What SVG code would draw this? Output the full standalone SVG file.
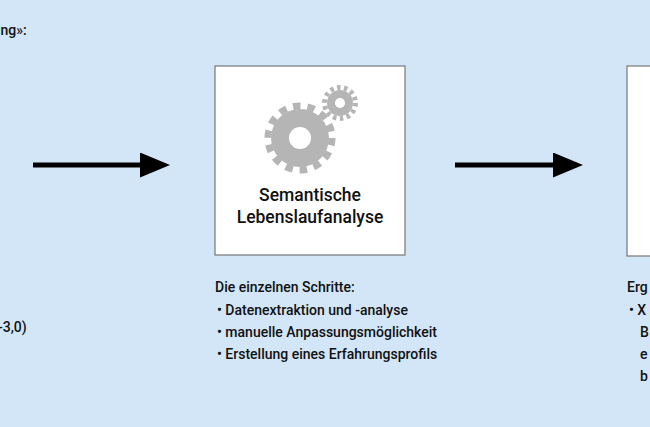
<svg xmlns="http://www.w3.org/2000/svg" width="650" height="427" viewBox="0 0 650 427">
<style>
text{font-family:Roboto,"Liberation Sans",Arial,sans-serif;fill:#111;font-weight:500}
.t{font-size:14px}
.h{font-size:17.5px;text-anchor:middle}
.box{fill:#fff;stroke:#777;stroke-width:1.2}
.g{fill:#b5b5b5}
.ln{stroke:#000;stroke-width:5}
</style>
<defs><marker id="ah" markerWidth="6" markerHeight="5" refX="0" refY="2.5" orient="auto" markerUnits="strokeWidth"><path d="M0,0L6,2.5L0,5z" fill="#000"/></marker></defs>
<rect width="650" height="427" fill="#d2e6f7"/>
<text class="t" x="-3" y="35" font-weight="bold">ing»:</text>
<text class="t" x="-2" y="332">-3,0)</text>
<g id="connectors">
<line class="ln" x1="33" y1="165" x2="140" y2="165" marker-end="url(#ah)"/>
<line class="ln" x1="455" y1="165" x2="553" y2="165" marker-end="url(#ah)"/>
</g>
<g id="analyse">
<rect class="box" x="215" y="66" width="190" height="189"/>
<g class="g">
<circle cx="300" cy="138" r="29"/>
<circle cx="300" cy="138" r="32" fill="none" stroke="#b5b5b5" stroke-width="7" stroke-dasharray="7.5 6.86"/>
<circle cx="300" cy="138" r="11" fill="#fff"/>
<circle cx="340" cy="103" r="13"/>
<circle cx="340" cy="103" r="15.5" fill="none" stroke="#b5b5b5" stroke-width="5" stroke-dasharray="3.5 3.46"/>
<circle cx="340" cy="103" r="5" fill="#fff"/>
</g>
<text class="h" x="310" y="201">Semantische</text>
<text class="h" x="310" y="223">Lebenslaufanalyse</text>
</g>
<g id="schritte">
<text class="t" x="215" y="292">Die einzelnen Schritte:</text>
<text class="t" x="217" y="315">•  Datenextraktion und -analyse</text>
<text class="t" x="217" y="337">•  manuelle Anpassungsmöglichkeit</text>
<text class="t" x="217" y="359">•  Erstellung eines Erfahrungsprofils</text>
</g>
<g id="ergebnis">
<rect class="box" x="627" y="66" width="40" height="190"/>
<text class="t" x="627" y="292">Erg</text>
<text class="t" x="629" y="315">•  X</text>
<text class="t" x="640" y="337">B</text>
<text class="t" x="640" y="359">e</text>
<text class="t" x="640" y="381">b</text>
</g>
</svg>
